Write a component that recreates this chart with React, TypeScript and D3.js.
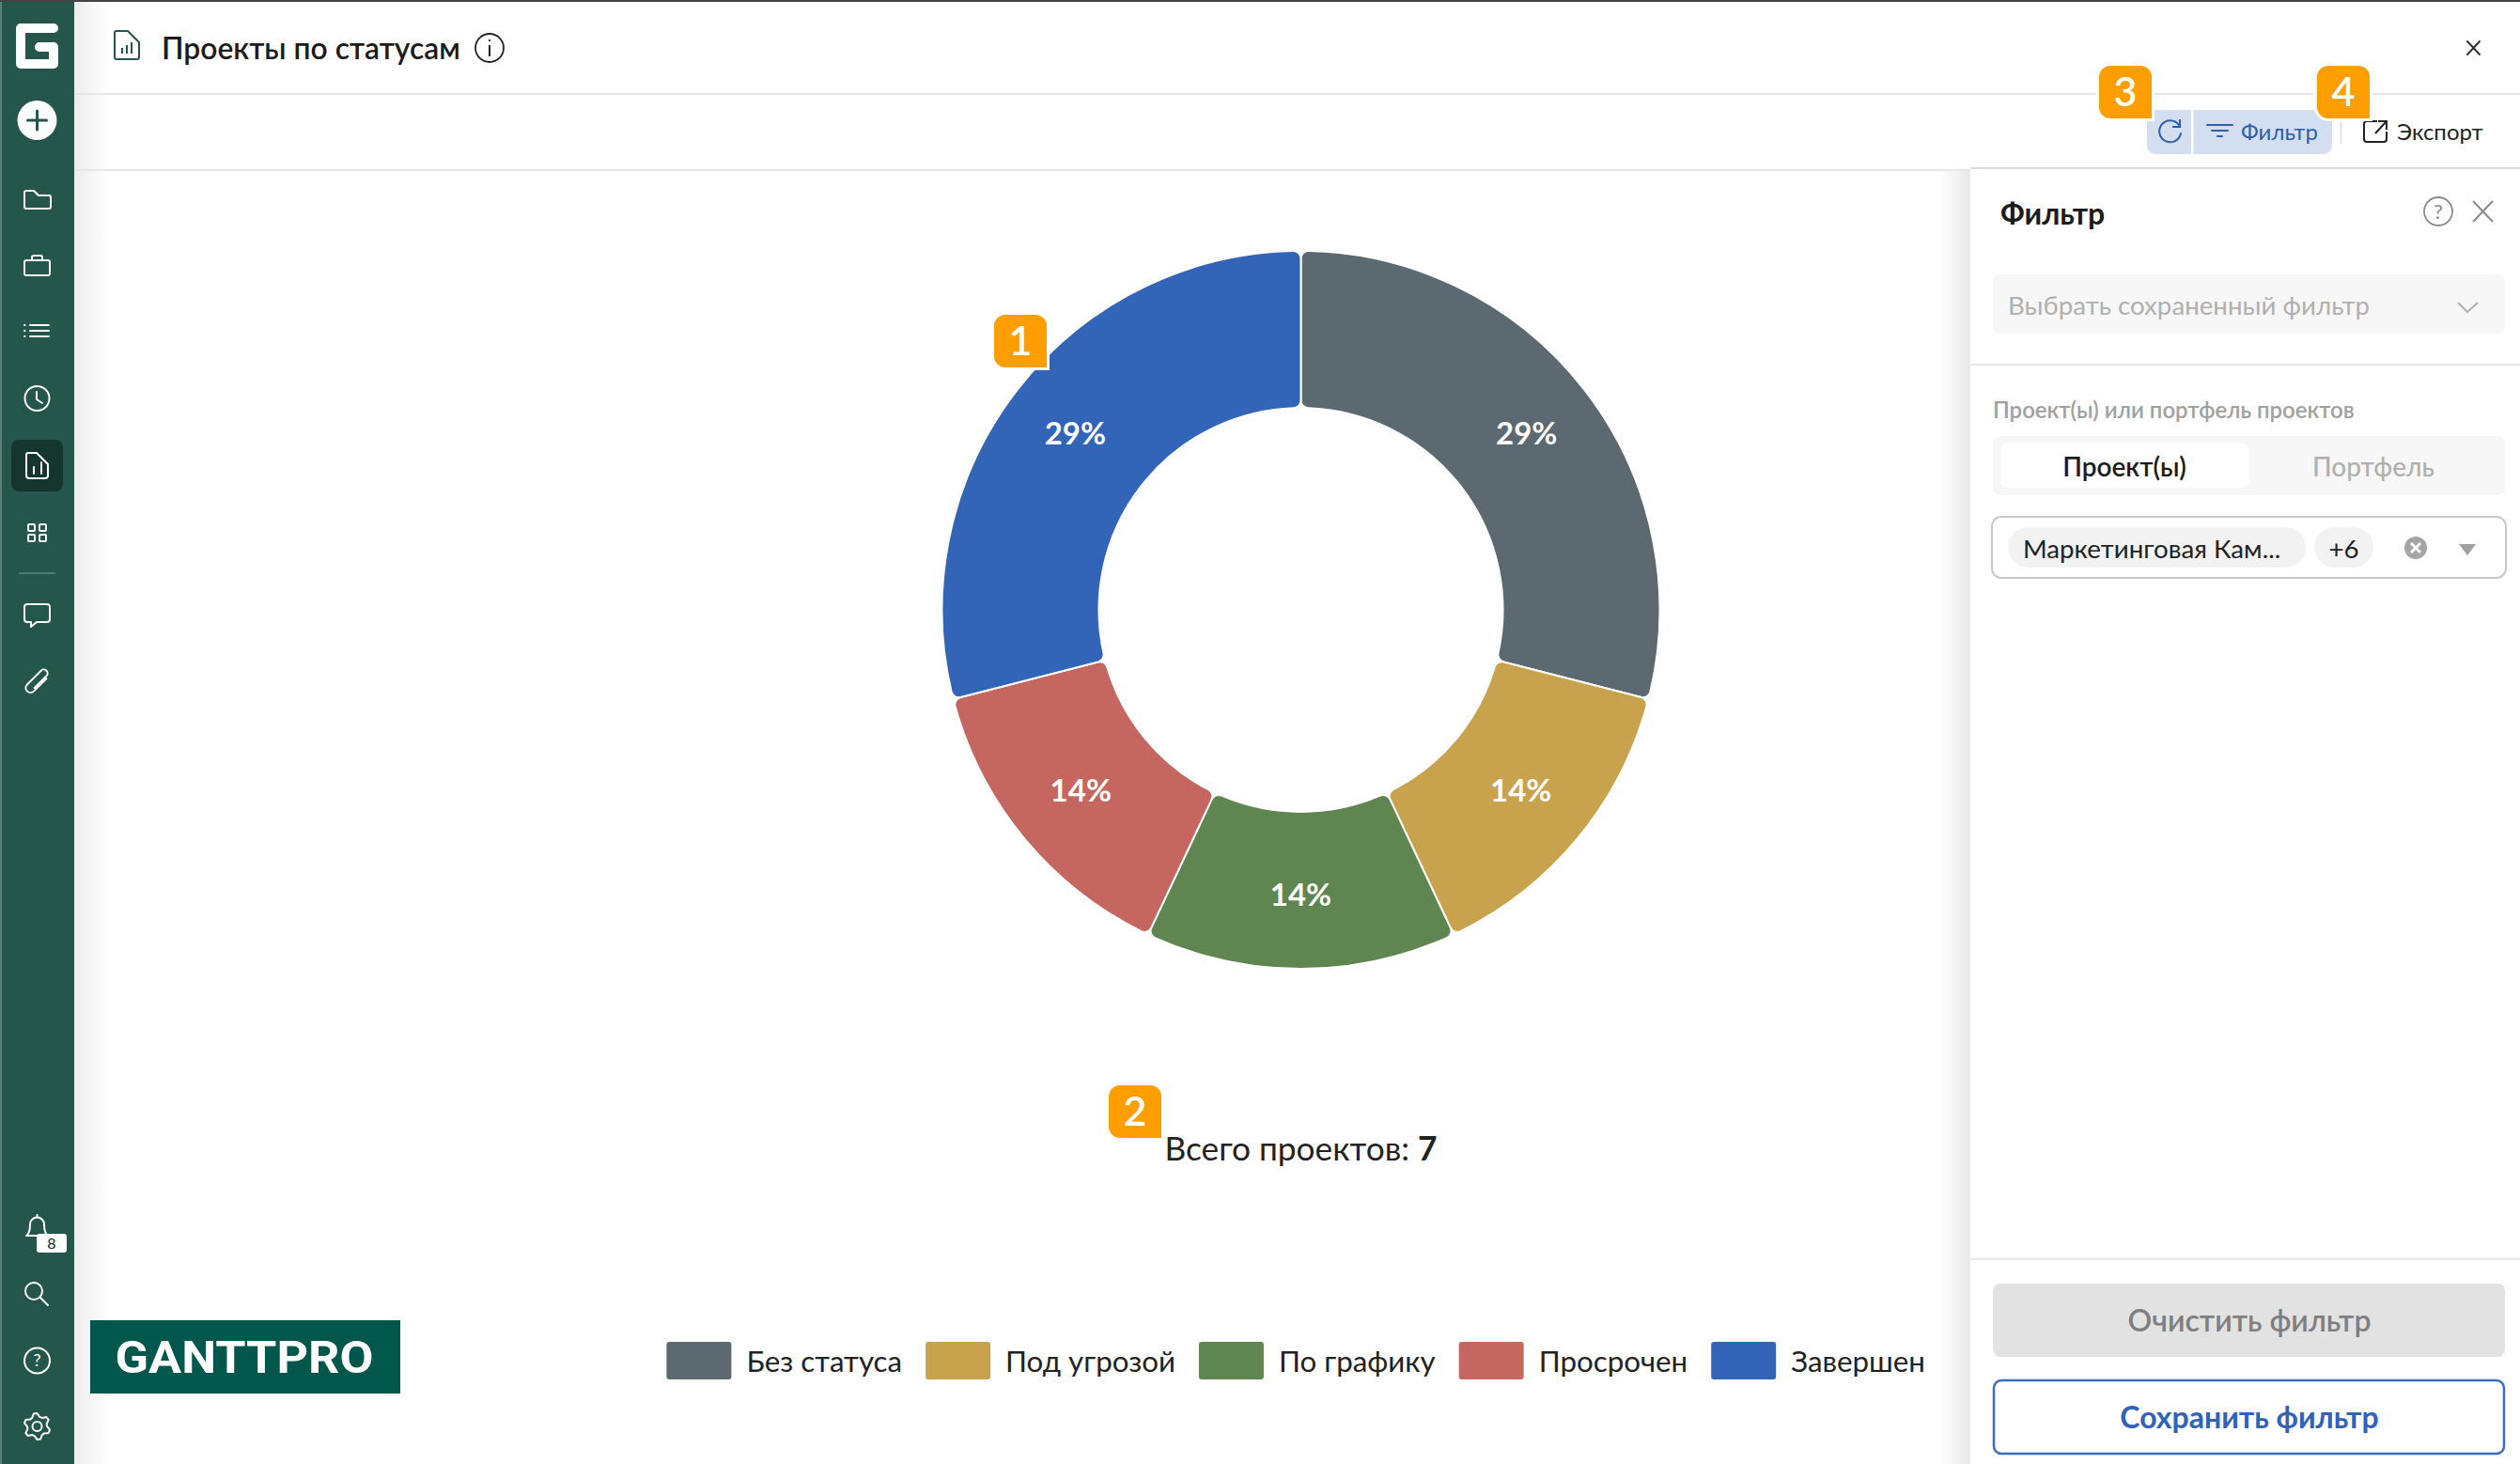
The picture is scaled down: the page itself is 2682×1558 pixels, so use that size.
import React, { useEffect, useRef } from 'react';
import * as d3 from 'd3';

// Chart data
const statuses = ['Без статуса', 'Под угрозой', 'По графику', 'Просрочен', 'Завершен'];
const statusShare = [29, 14, 14, 14, 29];
const statusColors = ['#5c6970', '#c9a24d', '#5f8651', '#c56660', '#3264b8'];
const totalProjects = 7;

const FONT = 'Lato, Carlito, "Noto Sans", sans-serif';
const ORANGE = '#ff9e00';
const SIDE = '#24564c';

const cx = 1384.5;
const cy = 649;
const outerR = 382;
const innerR = 215;

const Badge = ({ x, y, n }: { x: number; y: number; n: string }) => (
  <g>
    <path
      d={`M${x + 12} ${y}H${x + 44}a12 12 0 0 1 12 12V${y + 56}H${x + 12}a12 12 0 0 1 -12 -12V${y + 12}a12 12 0 0 1 12 -12z`}
      fill={ORANGE}
      stroke="#fff"
      strokeWidth={6}
      paintOrder="stroke"
    />
    <text x={x + 28} y={y + 43} textAnchor="middle" fontSize={43} fontWeight={600} fill="#fff">{n}</text>
  </g>
);

const sideIcon = { fill: 'none', stroke: '#fff', strokeWidth: 2, strokeLinecap: 'round' as const, strokeLinejoin: 'round' as const };

const Sidebar = () => (
  <g>
    <rect x={0} y={0} width={79} height={1558} fill={SIDE} />
    <rect x={0} y={0} width={2} height={1558} fill="#5f7f78" />
    {/* logo mark */}
    <path d="M57 30H22V68H57V50H42" fill="none" stroke="#fff" strokeWidth={10} strokeLinecap="round" strokeLinejoin="round" />
    {/* add */}
    <circle cx={39.5} cy={128} r={21} fill="#fff" />
    <path d="M39.5 118V138M29.5 128H49.5" stroke={SIDE} strokeWidth={3} strokeLinecap="round" />
    {/* folder */}
    <path d="M26 205a2 2 0 0 1 2 -2h8l5 5h11a2 2 0 0 1 2 2v10a2 2 0 0 1 -2 2H28a2 2 0 0 1 -2 -2z" {...sideIcon} />
    {/* briefcase */}
    <rect x={26} y={277} width={27} height={16} rx={2} {...sideIcon} />
    <path d="M34 277v-3a2 2 0 0 1 2 -2h7a2 2 0 0 1 2 2v3" {...sideIcon} />
    {/* list */}
    <path d="M32 346H52M32 352H52M32 358H52" {...sideIcon} />
    <path d="M26 346h.5M26 352h.5M26 358h.5" {...sideIcon} />
    {/* clock */}
    <circle cx={39.5} cy={424} r={13} {...sideIcon} />
    <path d="M39 417V425L45 429" {...sideIcon} />
    {/* active report */}
    <rect x={12} y={468} width={55} height={55} rx={8} fill="#14362e" />
    <path d="M30 482h9l12 12v12a3 3 0 0 1 -3 3H31a3 3 0 0 1 -3 -3V484a2 2 0 0 1 2 -2z" {...sideIcon} />
    <path d="M36 504V497M44 504V492" {...sideIcon} />
    {/* grid */}
    <rect x={30} y={558} width={7} height={7} rx={1} {...sideIcon} />
    <rect x={42} y={558} width={7} height={7} rx={1} {...sideIcon} />
    <rect x={30} y={569} width={7} height={7} rx={1} {...sideIcon} />
    <rect x={42} y={569} width={7} height={7} rx={1} {...sideIcon} />
    <path d="M20 610H59" stroke="#4f7a70" strokeWidth={2} />
    {/* chat */}
    <path d="M29 643h21a3 3 0 0 1 3 3v13a3 3 0 0 1 -3 3H39l-6 5v-5h-4a3 3 0 0 1 -3 -3V646a3 3 0 0 1 3 -3z" {...sideIcon} />
    {/* paperclip */}
    <path
      d="M44.5 716V735a5 5 0 0 1 -10 0V714a4 4 0 0 1 8 0V732"
      transform="rotate(45 39.5 725)"
      {...sideIcon}
    />
    {/* bell */}
    <path d="M28 1315c3 -2 4 -6 4 -12a7.500 7.500 0 0 1 15 0c0 6 1 10 4 12zM39.500 1293v2" {...sideIcon} />
    <rect x={39} y={1313} width={32} height={20} rx={3} fill="#fff" />
    <text x={55} y={1329} textAnchor="middle" fontSize={16} fill="#222">8</text>
    {/* search */}
    <circle cx={36} cy={1374} r={9} {...sideIcon} />
    <path d="M43 1381L51 1389" {...sideIcon} />
    {/* help */}
    <circle cx={39.5} cy={1448} r={13.500} {...sideIcon} />
    <text x={39.5} y={1454} textAnchor="middle" fontSize={18} fill="#fff">?</text>
    {/* settings */}
    <path
      d={d3.range(0, 24).map(i => {
        const a = (i / 24) * 2 * Math.PI;
        const r = i % 4 < 2 ? 14 : 10.500;
        return `${i ? 'L' : 'M'}${39.5 + r * Math.cos(a + 0.26)} ${1518 + r * Math.sin(a + 0.26)}`;
      }).join('') + 'Z'}
      {...sideIcon}
    />
    <circle cx={39.5} cy={1518} r={5} {...sideIcon} />
  </g>
);

const Header = () => (
  <g>
    <path d="M124 33h12l12 12v16a2 2 0 0 1 -2 2H124a2 2 0 0 1 -2 -2V35a2 2 0 0 1 2 -2z" fill="none" stroke="#24564c" strokeWidth={2} />
    <path d="M130 57V51M135 57V48M140 57V45" stroke="#24564c" strokeWidth={2} />
    <text x={172} y={63} fontSize={31.800} fontWeight={600} fill="#1b1b1b">Проекты по статусам</text>
    <circle cx={521} cy={51} r={15} fill="none" stroke="#222" strokeWidth={1.800} />
    <path d="M521 48V60M521 42V44" stroke="#222" strokeWidth={2} />
    <path d="M2626 44L2639 58M2639 44L2626 58" stroke="#333" strokeWidth={2} strokeLinecap="round" />
    <path d="M79 100H2682" stroke="#e6e6e6" strokeWidth={2} />
    <path d="M79 181H2682" stroke="#e6e6e6" strokeWidth={2} />

    <rect x={2285} y={117} width={197} height={47} rx={9} fill="#d3dff0" />
    <rect x={2332} y={117} width={2.500} height={47} fill="#fff" />
    <path d="M2319 133a11.500 11.500 0 1 0 2 9" fill="none" stroke="#2f5fa9" strokeWidth={2} strokeLinecap="round" />
    <path d="M2320 127V135H2312" fill="none" stroke="#2f5fa9" strokeWidth={2} />
    <path d="M2349 133H2376M2354 139H2371M2360 145H2365" stroke="#2f5fa9" strokeWidth={2} strokeLinecap="round" />
    <text x={2385} y={149} fontSize={24} fill="#2f5fa9">Фильтр</text>
    <path d="M2491.500 130V153" stroke="#e2e2e2" strokeWidth={2} />
    <path d="M2530 129H2519a3 3 0 0 0 -3 3V148a3 3 0 0 0 3 3H2537a3 3 0 0 0 3 -3V140" fill="none" stroke="#222" strokeWidth={2} />
    <path d="M2528 142L2540 129M2531 129H2540V138" fill="none" stroke="#222" strokeWidth={2} />
    <text x={2551} y={149} fontSize={24} fill="#222">Экспорт</text>
  </g>
);

const Panel = () => (
  <g>
    <rect x={2065} y={182} width={32} height={1376} fill="url(#panelShade)" />
    <rect x={2097} y={178} width={585} height={1380} fill="#fff" />
    <path d="M2097 179H2682" stroke="#dcdcdc" strokeWidth={2} />
    <text x={2129} y={239} fontSize={32} fontWeight={700} fill="#1b1b1b">Фильтр</text>
    <circle cx={2595} cy={225} r={15} fill="none" stroke="#8a8a8a" strokeWidth={1.800} />
    <text x={2595} y={233} textAnchor="middle" fontSize={22} fill="#8a8a8a">?</text>
    <path d="M2632 214L2653 236M2653 214L2632 236" stroke="#8a8a8a" strokeWidth={2} />

    <rect x={2121} y={292} width={545} height={63} rx={8} fill="#f7f7f7" />
    <text x={2137} y={335} fontSize={27.700} fill="#b0b0b0">Выбрать сохраненный фильтр</text>
    <path d="M2616 322L2626 332L2637 322" fill="none" stroke="#b0b0b0" strokeWidth={2} />
    <path d="M2097 388H2682" stroke="#e6e6e6" strokeWidth={2} />

    <text x={2121} y={445} fontSize={24} fontWeight={600} fill="#a0a0a0">Проект(ы) или портфель проектов</text>
    <rect x={2121} y={464} width={545} height={63} rx={8} fill="#f7f7f7" />
    <rect x={2129} y={472} width={265} height={47} rx={8} fill="#fff" />
    <text x={2261} y={507} textAnchor="middle" fontSize={28} fontWeight={600} fill="#1b1b1b">Проект(ы)</text>
    <text x={2526} y={507} textAnchor="middle" fontSize={28} fontWeight={500} fill="#b0b0b0">Портфель</text>

    <rect x={2120} y={550} width={547} height={65} rx={10} fill="#fff" stroke="#c8c8c8" strokeWidth={2} />
    <rect x={2137} y={561} width={317} height={43} rx={21.500} fill="#f2f2f2" />
    <text x={2153} y={594} fontSize={27.700} fill="#222">Маркетинговая Кам...</text>
    <rect x={2463} y={561} width={63} height={43} rx={21.500} fill="#f2f2f2" />
    <text x={2494.500} y={594} textAnchor="middle" fontSize={27.700} fill="#222">+6</text>
    <circle cx={2571} cy={583} r={12} fill="#a5a5a5" />
    <path d="M2566 578L2576 588M2576 578L2566 588" stroke="#fff" strokeWidth={3} />
    <path d="M2617 579H2635L2626 591z" fill="#a0a0a0" />

    <path d="M2097 1340H2682" stroke="#e6e6e6" strokeWidth={2} />
    <rect x={2121} y={1366} width={545} height={78} rx={8} fill="#e2e2e2" />
    <text x={2394} y={1417} textAnchor="middle" fontSize={32} fontWeight={600} fill="#7f7f7f">Очистить фильтр</text>
    <rect x={2122} y={1469} width={543} height={78} rx={8} fill="#fff" stroke="#3b6cc0" strokeWidth={2.500} />
    <text x={2394} y={1520} textAnchor="middle" fontSize={32} fontWeight={700} fill="#2f62b8">Сохранить фильтр</text>
  </g>
);

export default function App() {
  const chartRef = useRef<SVGGElement>(null);

  useEffect(() => {
    if (!chartRef.current) return;
    const root = d3.select(chartRef.current);
    root.selectAll('*').remove();

    const pie = d3.pie<number>().sort(null).value(d => d);
    const arcs = pie(statusShare);
    const arc = d3.arc<d3.PieArcDatum<number>>().innerRadius(innerR).outerRadius(outerR).cornerRadius(8);
    const labelArc = d3.arc<d3.PieArcDatum<number>>().innerRadius(304).outerRadius(304);

    const ring = root.append('g').attr('transform', `translate(${cx},${cy})`);
    ring.selectAll('path')
      .data(arcs)
      .enter()
      .append('path')
        .attr('d', arc)
        .attr('fill', (_, i) => statusColors[i])
        .attr('stroke', '#fff')
        .attr('stroke-width', 2);

    ring.selectAll('text')
      .data(arcs)
      .enter()
      .append('text')
        .attr('transform', d => `translate(${labelArc.centroid(d)})`)
        .attr('text-anchor', 'middle')
        .attr('dy', '0.32em')
        .attr('font-size', 33)
        .attr('font-weight', 700)
        .attr('fill', '#fff')
        .text(d => `${d.value}%`);

    // Legend flows right to left from the edge of the plot area
    const legend = root.append('g');
    let right = 2049;
    for (let i = statuses.length - 1; i >= 0; i--) {
      const label = legend.append('text')
        .attr('y', 1460)
        .attr('font-size', 31.3)
        .attr('fill', '#222')
        .text(statuses[i]);
      const w = (label.node() as SVGTextElement).getComputedTextLength();
      label.attr('x', right - w);
      legend.append('rect')
        .attr('x', right - w - 16 - 69)
        .attr('y', 1428)
        .attr('width', 69)
        .attr('height', 40)
        .attr('rx', 3)
        .attr('fill', statusColors[i]);
      right -= w + 16 + 69 + 25;
    }
  }, []);

  return (
    <svg
      width={2682}
      height={1558}
      viewBox="0 0 2682 1558"
      fontFamily={FONT}
      style={{ position: 'absolute', left: 0, top: 0, background: '#fff' }}
    >
      <defs>
        <linearGradient id="sideShade" x1="0" x2="1" y1="0" y2="0">
          <stop offset="0" stopColor="#ececec" />
          <stop offset="1" stopColor="#ececec" stopOpacity={0} />
        </linearGradient>
        <linearGradient id="panelShade" x1="0" x2="1" y1="0" y2="0">
          <stop offset="0" stopColor="#e8e8e8" stopOpacity={0} />
          <stop offset="1" stopColor="#e8e8e8" />
        </linearGradient>
      </defs>
      <rect x={79} y={0} width={36} height={1558} fill="url(#sideShade)" />
      <Header />
      <g ref={chartRef} />
      <text x={cx} y={1235} textAnchor="middle" fontSize={35.3} fill="#222">
        Всего проектов: <tspan fontWeight={700}>{totalProjects}</tspan>
      </text>
      <rect x={96} y={1405} width={330} height={78} fill="#02574c" />
      <text x={260} y={1461} textAnchor="middle" fontSize={49} fontWeight={700} fill="#fff" fontFamily="Roboto" textLength={275} lengthAdjust="spacingAndGlyphs">GANTTPRO</text>
      <Panel />
      <Sidebar />
      <rect x={0} y={0} width={2682} height={2} fill="#444" />
      <Badge x={1058} y={335} n="1" />
      <Badge x={1180} y={1155} n="2" />
      <Badge x={2234} y={70} n="3" />
      <Badge x={2466} y={70} n="4" />
    </svg>
  );
}
